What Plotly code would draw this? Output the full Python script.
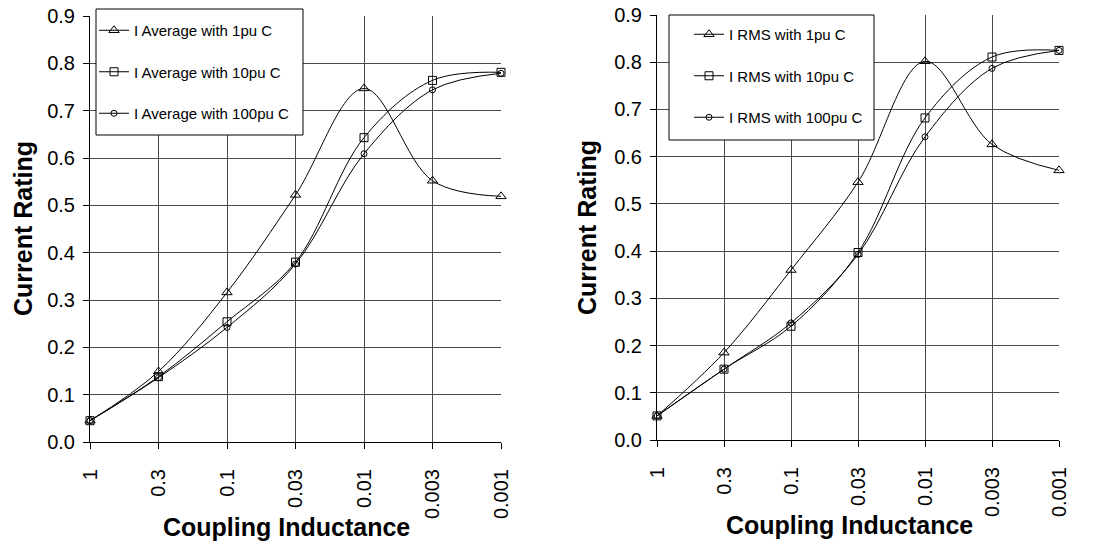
import plotly.graph_objects as go

# Coupling inductance steps (category axis, largest to smallest)
inductance = ["1", "0.3", "0.1", "0.03", "0.01", "0.003", "0.001"]

# Average current rating for three capacitor sizes
avg_1pu = [0.045, 0.149, 0.316, 0.522, 0.747, 0.552, 0.519]
avg_10pu = [0.045, 0.138, 0.254, 0.380, 0.643, 0.764, 0.781]
avg_100pu = [0.045, 0.136, 0.242, 0.376, 0.609, 0.744, 0.779]

# RMS current rating for three capacitor sizes
rms_1pu = [0.051, 0.185, 0.360, 0.546, 0.802, 0.626, 0.571]
rms_10pu = [0.051, 0.150, 0.241, 0.397, 0.682, 0.811, 0.825]
rms_100pu = [0.051, 0.150, 0.248, 0.393, 0.642, 0.787, 0.825]

y_ticks = [0.0, 0.1, 0.2, 0.3, 0.4, 0.5, 0.6, 0.7, 0.8, 0.9]

FONT = "Liberation Sans, Arial, sans-serif"
INK = "black"
GRID = "#4a4a4a"

fig = go.Figure()

series = [
    ("x", "y", "legend", "I Average with ", [avg_1pu, avg_10pu, avg_100pu]),
    ("x2", "y2", "legend2", "I RMS with ", [rms_1pu, rms_10pu, rms_100pu]),
]
labels = ["1pu C", "10pu C", "100pu C"]
symbols = ["triangle-up-open", "square-open", "circle-open"]
sizes = [9, 8, 6]

for xa, ya, lg, prefix, data in series:
    for i, vals in enumerate(data):
        fig.add_trace(go.Scatter(
            x=inductance, y=vals, xaxis=xa, yaxis=ya, legend=lg,
            name=prefix + labels[i], legendgroup=f"{lg}{i}",
            mode="lines+markers",
            line=dict(color=INK, width=1, shape="spline", smoothing=1),
            marker=dict(symbol=symbols[i], size=sizes[i], color=INK,
                        line=dict(color=INK, width=1)),
            cliponaxis=False,
        ))

W, H = 1093, 544


def xdom(a, b):
    return [a / W, b / W]


def ydom(top, bottom):
    return [1 - bottom / H, 1 - top / H]


def px_x(v):
    return v / W


def px_y(v):
    return 1 - v / H


xcommon = dict(
    type="category", range=[0, 6], tickangle=-90, automargin=False,
    showgrid=True, gridcolor=GRID, gridwidth=1,
    showline=True, linecolor=INK, linewidth=1, mirror=False,
    ticks="outside", ticklen=6, tickcolor=INK, ticklabelstandoff=12,
    tickfont=dict(family=FONT, size=20, color=INK),
    zeroline=False,
)
ycommon = dict(
    range=[0, 0.9], tickvals=y_ticks, tickformat=".1f", automargin=False,
    showgrid=True, gridcolor=GRID, gridwidth=1,
    showline=True, linecolor=INK, linewidth=1,
    ticks="outside", ticklen=6, tickcolor=INK, ticklabelstandoff=4,
    tickfont=dict(family=FONT, size=20, color=INK),
    zeroline=False,
)

# Legend entries sit on a framed white panel drawn as a shape
legcommon = dict(
    bgcolor="rgba(0,0,0,0)", borderwidth=0,
    font=dict(family=FONT, size=15, color=INK),
    tracegroupgap=19, itemwidth=30,
    xanchor="left", yanchor="top",
)

panels = [(96, 9, 303, 135), (669, 15, 874, 140)]
shapes = [
    dict(type="rect", xref="paper", yref="paper",
         x0=px_x(l), x1=px_x(r), y0=px_y(b), y1=px_y(t),
         fillcolor="white", line=dict(color=INK, width=1), layer="above")
    for l, t, r, b in panels
]

title_font = dict(family=FONT, size=25, color=INK)

fig.update_layout(
    width=W, height=H,
    margin=dict(l=0, r=0, t=0, b=0),
    paper_bgcolor="white", plot_bgcolor="white",
    font=dict(family=FONT, color=INK),
    xaxis=dict(domain=xdom(90, 501), anchor="y", **xcommon),
    yaxis=dict(domain=ydom(16, 442), anchor="x", **ycommon),
    xaxis2=dict(domain=xdom(657, 1059), anchor="y2", **xcommon),
    yaxis2=dict(domain=ydom(15, 440), anchor="x2", **ycommon),
    legend=dict(x=px_x(94), y=px_y(14), **legcommon),
    legend2=dict(x=px_x(689), y=px_y(18), **legcommon),
    shapes=shapes,
    annotations=[
        dict(text="<b>Current Rating</b>", x=px_x(23), y=px_y(229),
             xref="paper", yref="paper", xanchor="center", yanchor="middle",
             textangle=-90, showarrow=False, font=title_font),
        dict(text="<b>Coupling Inductance</b>", x=px_x(286), y=px_y(527),
             xref="paper", yref="paper", xanchor="center", yanchor="middle",
             showarrow=False, font=title_font),
        dict(text="<b>Current Rating</b>", x=px_x(587), y=px_y(228),
             xref="paper", yref="paper", xanchor="center", yanchor="middle",
             textangle=-90, showarrow=False, font=title_font),
        dict(text="<b>Coupling Inductance</b>", x=px_x(849), y=px_y(525),
             xref="paper", yref="paper", xanchor="center", yanchor="middle",
             showarrow=False, font=title_font),
    ],
)

fig.write_html("out.html")
